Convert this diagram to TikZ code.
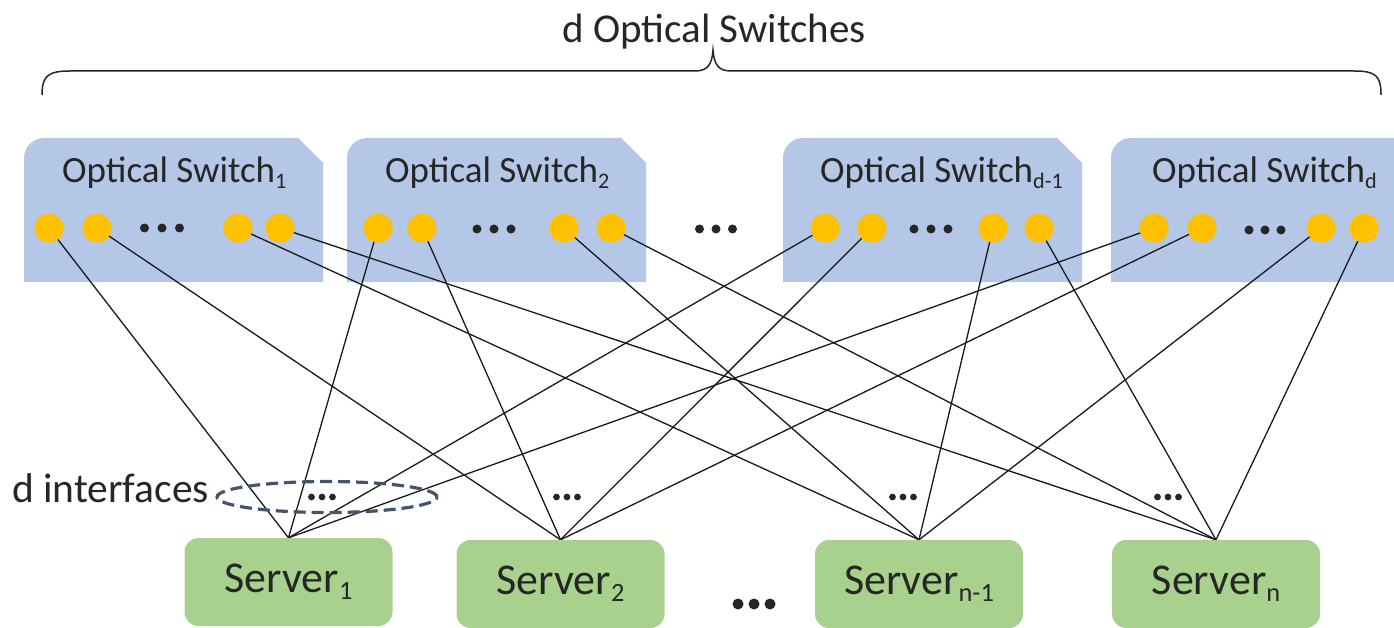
\documentclass[tikz,border=0pt]{standalone}
\usepackage{fontspec}
\setmainfont{Carlito}
\usetikzlibrary{shapes.geometric}
\pgfdeclarelayer{boxes}
\pgfdeclarelayer{wires}
\pgfsetlayers{boxes,wires,main}

\definecolor{swblue}{HTML}{B4C7E7}
\definecolor{portgold}{HTML}{FFC000}
\definecolor{srvgreen}{HTML}{A9D18E}
\definecolor{ringcol}{HTML}{44546A}
\definecolor{inkcol}{HTML}{262626}

% lowered, reduced index after a label
\newcommand\idx[1]{\raisebox{-0.16em}{\scalebox{0.6}{#1}}}
% switch body: rounded top-left corner, clipped top-right corner
\newcommand\swbody[2]{%
  \fill[swblue] (#1,282) -- (#1,158) arc[start angle=180,end angle=270,radius=20]
    -- ({#2-25},138) -- (#2,163) -- (#2,282) -- cycle;}
% three dots: centre x, centre y, spacing, radius
\newcommand\threedots[4]{%
  \foreach \k in {-1,0,1} \fill[inkcol] ({#1+\k*#3},#2) circle[radius=#4];}

\begin{document}
\begin{tikzpicture}[x=1pt,y=-1pt,
    port/.style={circle, fill=portgold, inner sep=0pt, minimum size=29pt},
    server/.style={rectangle, rounded corners=14pt, fill=srvgreen, inner sep=0pt,
      minimum width=208pt, minimum height=88pt, text=inkcol,
      font=\fontsize{44}{52}\selectfont},
    swlabel/.style={anchor=base west, inner sep=0pt, text=inkcol,
      font=\fontsize{37}{44}\selectfont},
    link/.style={line width=1.3pt, draw=black!90},
    ring/.style={ellipse, draw=ringcol, line width=3.2pt, dash pattern=on 12pt off 6pt,
      minimum width=220pt, minimum height=31pt, inner sep=0pt}]

\useasboundingbox (0,0) rectangle (1394,628);

% heading and brace over the switches
\node[anchor=base, inner sep=0pt, text=inkcol, font=\fontsize{41}{48}\selectfont]
  (head) at (714,43) {d Optical Switches};
\draw[line width=1.5pt, inkcol]
  (42,95) .. controls (42,76) and (48,71) .. (70,71) -- (695,71)
  .. controls (708,71) and (712,64) .. (713,50)
  .. controls (714,64) and (718,71) .. (731,71) -- (1354,71)
  .. controls (1376,71) and (1381,76) .. (1381,95);

% switch bodies
\begin{pgfonlayer}{boxes}
  \swbody{24}{323}
  \swbody{347}{646}
  \swbody{783}{1082}
  \swbody{1111}{1420}
\end{pgfonlayer}

\node[swlabel] (t1) at (62,183) {Optical Switch\idx{1}};
\node[swlabel] (t2) at (385,183) {Optical Switch\idx{2}};
\node[swlabel] (t3) at (820,183) {Optical Switch\idx{d-1}};
\node[swlabel] (t4) at (1152,183) {Optical Switch\idx{d}};

% ports of each switch
\foreach \s/\xa/\xb/\xc/\xd in {1/49/97/238/280, 2/378/422/564/611,
                               3/825/872/993/1039, 4/1154/1202/1321/1364}{
  \node[port] (p\s-1) at (\xa,228) {};
  \node[port] (p\s-2) at (\xb,228) {};
  \node[port] (p\s-3) at (\xc,228) {};
  \node[port] (p\s-4) at (\xd,228) {};
}
\threedots{162}{228}{17.5}{4.5}
\threedots{494}{229}{17}{4.5}
\threedots{931}{229}{17}{4.5}
\threedots{1265}{230}{16}{4.5}
\threedots{716}{229}{16.5}{4.5}

% servers
\node[server] (v1) at (288.5,582) {Server\idx{1}};
\node[server] (v2) at (560.5,584) {Server\idx{2}};
\node[server] (v3) at (919,584) {Server\idx{n-1}};
\node[server] (v4) at (1216,584) {Server\idx{n}};
\threedots{754}{604}{16}{5.5}

% every server reaches the same port position on every switch
\begin{pgfonlayer}{wires}
  \foreach \v in {1,2,3,4}
    \foreach \s in {1,2,3,4}
      \draw[link] (p\s-\v.center) -- (v\v.north);
\end{pgfonlayer}

% interfaces of one server
\node[ring] (ifc) at (327,497) {};
\node[anchor=base west, inner sep=0pt, text=inkcol, font=\fontsize{41.5}{48}\selectfont]
  (ifclabel) at (12,502) {d interfaces};
\threedots{322}{497}{10.5}{3.4}
\threedots{567}{497}{10.5}{3.4}
\threedots{903}{497}{10.5}{3.4}
\threedots{1168}{497}{10.5}{3.4}

\end{tikzpicture}
\end{document}
